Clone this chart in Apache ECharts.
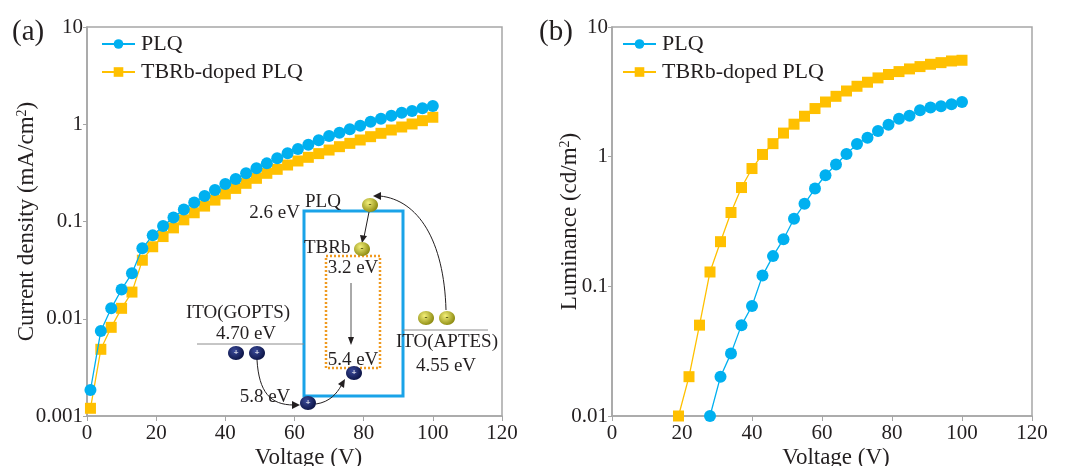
<!DOCTYPE html>
<html>
<head>
<meta charset="utf-8">
<script src="https://cdn.jsdelivr.net/npm/echarts@6/dist/echarts.min.js"></script>
<style>
  html, body { margin: 0; padding: 0; background: #fff; }
  #chart { width: 1071px; height: 466px; }
</style>
</head>
<body>
<div id="chart"></div>
<script>
// (a) current density vs voltage
const voltA = [1, 4, 7, 10, 13, 16, 19, 22, 25, 28, 31, 34, 37, 40, 43, 46, 49, 52, 55, 58, 61, 64, 67, 70, 73, 76, 79, 82, 85, 88, 91, 94, 97, 100];
const plqJ = [0.00185, 0.0075, 0.0128, 0.020, 0.0293, 0.053, 0.072, 0.090, 0.110, 0.133, 0.157, 0.183, 0.211, 0.243, 0.274, 0.313, 0.352, 0.396, 0.446, 0.502, 0.556, 0.617, 0.684, 0.757, 0.819, 0.887, 0.967, 1.06, 1.14, 1.22, 1.31, 1.37, 1.46, 1.54];
const tbrbJ = [0.0012, 0.00485, 0.00816, 0.0128, 0.0188, 0.040, 0.055, 0.070, 0.086, 0.104, 0.123, 0.144, 0.166, 0.192, 0.219, 0.247, 0.278, 0.313, 0.344, 0.381, 0.419, 0.457, 0.499, 0.543, 0.588, 0.636, 0.689, 0.745, 0.807, 0.873, 0.937, 1.006, 1.089, 1.18];

// (b) luminance vs voltage
const voltPlqB = [28, 31, 34, 37, 40, 43, 46, 49, 52, 55, 58, 61, 64, 67, 70, 73, 76, 79, 82, 85, 88, 91, 94, 97, 100];
const plqL = [0.01, 0.0201, 0.0304, 0.0502, 0.0705, 0.121, 0.171, 0.231, 0.332, 0.433, 0.568, 0.719, 0.869, 1.05, 1.25, 1.40, 1.58, 1.76, 1.96, 2.07, 2.28, 2.39, 2.45, 2.54, 2.64];
const voltTbrbB = [19, 22, 25, 28, 31, 34, 37, 40, 43, 46, 49, 52, 55, 58, 61, 64, 67, 70, 73, 76, 79, 82, 85, 88, 91, 94, 97, 100];
const tbrbL = [0.01, 0.0201, 0.0502, 0.129, 0.221, 0.371, 0.578, 0.810, 1.04, 1.26, 1.52, 1.78, 2.05, 2.35, 2.64, 2.92, 3.21, 3.49, 3.75, 4.05, 4.30, 4.53, 4.75, 4.95, 5.16, 5.31, 5.47, 5.54];

const xTicks = [0, 20, 40, 60, 80, 100, 120];

const FONT = '"Liberation Serif", "Times New Roman", serif';
const INK = '#231f20';
const AXIS = '#a6a6a6';
const BLUE = '#00b0f0';
const GOLD = '#ffc000';

function pair(xs, ys) {
  return xs.map((x, i) => [x, ys[i]]);
}

function logLabel(v) {
  return String(parseFloat(Number(v).toPrecision(6)));
}

function xAxisFor(gridIndex) {
  return {
    gridIndex: gridIndex,
    type: 'value',
    min: xTicks[0],
    max: xTicks[xTicks.length - 1],
    interval: 20,
    name: 'Voltage (V)',
    nameLocation: 'middle',
    nameGap: 30,
    nameMoveOverlap: false,
    nameTextStyle: { fontFamily: FONT, fontSize: 23, color: INK, padding: [0, 0, 0, 28] },
    axisLine: { show: true, lineStyle: { color: AXIS, width: 1.5 } },
    axisTick: { show: true, length: 5, lineStyle: { color: AXIS } },
    axisLabel: { fontFamily: FONT, fontSize: 21, color: INK, margin: 7 },
    splitLine: { show: false }
  };
}

function yAxisFor(gridIndex, min, nameRich, gap) {
  return {
    gridIndex: gridIndex,
    type: 'log',
    logBase: 10,
    min: min,
    max: 10,
    name: nameRich,
    nameLocation: 'middle',
    nameRotate: 90,
    nameGap: gap,
    nameMoveOverlap: false,
    nameTextStyle: {
      fontFamily: FONT, fontSize: 23, color: INK,
      rich: { sup: { fontFamily: FONT, fontSize: 14, color: INK, verticalAlign: 'top', padding: [0, 0, 10, 0] } }
    },
    axisLine: { show: true, lineStyle: { color: AXIS, width: 1.5 } },
    axisTick: { show: true, length: 4, lineStyle: { color: AXIS } },
    axisLabel: { fontFamily: FONT, fontSize: 21, color: INK, margin: 4, formatter: logLabel },
    splitLine: { show: false },
    minorTick: { show: false }
  };
}

function lineSeries(name, xi, data, color, symbol, size) {
  return {
    name: name,
    type: 'line',
    xAxisIndex: xi,
    yAxisIndex: xi,
    data: data,
    symbol: symbol,
    symbolSize: size,
    showSymbol: true,
    lineStyle: { color: color, width: 1.3 },
    itemStyle: { color: color },
    emphasis: { disabled: true },
    z: symbol === 'circle' ? 3 : 2
  };
}

function legendAt(left) {
  return {
    orient: 'vertical',
    left: left,
    top: 33,
    padding: 0,
    itemWidth: 33,
    itemHeight: 12,
    itemGap: 6,
    data: ['PLQ', 'TBRb-doped PLQ'],
    textStyle: { fontFamily: FONT, fontSize: 22, color: INK, padding: [0, 0, 0, 1] }
  };
}

// inset energy diagram (decoration, pixel positions)
function ball(cx, cy, kind) {
  const yellow = kind === '-';
  return {
    type: 'group',
    children: [
      {
        type: 'ellipse',
        shape: { cx: cx, cy: cy, rx: 8, ry: 7 },
        style: {
          fill: {
            type: 'radial', x: 0.4, y: 0.35, r: 0.7,
            colorStops: yellow
              ? [{ offset: 0, color: '#f4f07a' }, { offset: 1, color: '#8c8a10' }]
              : [{ offset: 0, color: '#3a4a9a' }, { offset: 1, color: '#0c1446' }]
          }
        }
      },
      {
        type: 'text',
        style: {
          x: cx, y: cy, text: yellow ? '-' : '+', align: 'center', verticalAlign: 'middle',
          fill: yellow ? '#3a3a00' : '#ffffff', font: 'bold 9px ' + FONT
        }
      }
    ]
  };
}

function label(x, y, text, align) {
  return {
    type: 'text',
    style: { x: x, y: y, text: text, align: align || 'center', verticalAlign: 'middle', fill: INK, font: '19px ' + FONT }
  };
}

function head(points) {
  return { type: 'polygon', shape: { points: points }, style: { fill: '#231f20' } };
}

const inset = [
  { type: 'rect', shape: { x: 304, y: 211, width: 99, height: 185 }, style: { fill: 'rgba(255,255,255,0)', stroke: '#1aa3e8', lineWidth: 3 } },
  { type: 'rect', shape: { x: 326, y: 256, width: 54, height: 112 }, style: { fill: 'rgba(255,255,255,0)', stroke: '#f09a20', lineWidth: 2.5, lineDash: [2, 2] } },
  { type: 'line', shape: { x1: 197, y1: 344, x2: 304, y2: 344 }, style: { stroke: '#8c8c8c', lineWidth: 1 } },
  { type: 'line', shape: { x1: 403, y1: 330, x2: 488, y2: 330 }, style: { stroke: '#8c8c8c', lineWidth: 1 } },
  label(300, 213, '2.6 eV', 'right'),
  label(305, 202, 'PLQ', 'left'),
  label(304, 248, 'TBRb', 'left'),
  label(353, 268, '3.2 eV'),
  label(353, 360, '5.4 eV'),
  label(238, 313, 'ITO(GOPTS)'),
  label(246, 334, '4.70 eV'),
  label(265, 397, '5.8 eV'),
  label(447, 342, 'ITO(APTES)'),
  label(446, 366, '4.55 eV'),
  // arrows
  { type: 'bezierCurve', shape: { x1: 446, y1: 310, cpx1: 444, cpy1: 240, cpx2: 418, cpy2: 200, x2: 380, y2: 196 }, style: { stroke: '#231f20', lineWidth: 1, fill: null } },
  head([[373, 196], [381, 192], [381, 200]]),
  { type: 'line', shape: { x1: 369, y1: 212, x2: 364, y2: 237 }, style: { stroke: '#231f20', lineWidth: 1 } },
  head([[362, 243], [360, 235], [367, 236]]),
  { type: 'line', shape: { x1: 351, y1: 283, x2: 351, y2: 339 }, style: { stroke: '#555', lineWidth: 1 } },
  head([[351, 345], [348, 337], [354, 337]]),
  { type: 'bezierCurve', shape: { x1: 257, y1: 360, cpx1: 259, cpy1: 392, cpx2: 270, cpy2: 405, x2: 294, y2: 405 }, style: { stroke: '#231f20', lineWidth: 1, fill: null } },
  head([[300, 405], [292, 401], [292, 409]]),
  { type: 'bezierCurve', shape: { x1: 316, y1: 404, cpx1: 330, cpy1: 402, cpx2: 337, cpy2: 393, x2: 341, y2: 386 }, style: { stroke: '#231f20', lineWidth: 1, fill: null } },
  head([[345, 379], [344, 388], [338, 384]]),
  ball(370, 205, '-'),
  ball(362, 249, '-'),
  ball(426, 318, '-'),
  ball(447, 318, '-'),
  ball(236, 353, '+'),
  ball(257, 353, '+'),
  ball(308, 403, '+'),
  ball(354, 373, '+'),
  // panel tags
  { type: 'text', style: { x: 12, y: 32, text: '(a)', align: 'left', verticalAlign: 'middle', fill: INK, font: '29px ' + FONT } },
  { type: 'text', style: { x: 539, y: 32, text: '(b)', align: 'left', verticalAlign: 'middle', fill: INK, font: '29px ' + FONT } }
];

const chart = echarts.init(document.getElementById('chart'), null, { renderer: 'canvas' });

chart.setOption({
  animation: false,
  backgroundColor: '#ffffff',
  grid: [
    { left: 87, top: 27, width: 415, height: 389, outerBoundsMode: 'none', containLabel: false, show: true, borderColor: AXIS, borderWidth: 1.5, backgroundColor: 'transparent' },
    { left: 612, top: 27, width: 420, height: 389, outerBoundsMode: 'none', containLabel: false, show: true, borderColor: AXIS, borderWidth: 1.5, backgroundColor: 'transparent' }
  ],
  legend: [legendAt(101), legendAt(622)],
  xAxis: [xAxisFor(0), xAxisFor(1)],
  yAxis: [
    yAxisFor(0, 0.001, 'Current density (mA/cm{sup|2})', 48),
    yAxisFor(1, 0.01, 'Luminance (cd/m{sup|2})', 30)
  ],
  series: [
    lineSeries('PLQ', 0, pair(voltA, plqJ), BLUE, 'circle', 12),
    lineSeries('TBRb-doped PLQ', 0, pair(voltA, tbrbJ), GOLD, 'rect', 11),
    lineSeries('PLQ', 1, pair(voltPlqB, plqL), BLUE, 'circle', 12),
    lineSeries('TBRb-doped PLQ', 1, pair(voltTbrbB, tbrbL), GOLD, 'rect', 11)
  ],
  graphic: inset
});

window.addEventListener('resize', () => chart.resize());
</script>
</body>
</html>
